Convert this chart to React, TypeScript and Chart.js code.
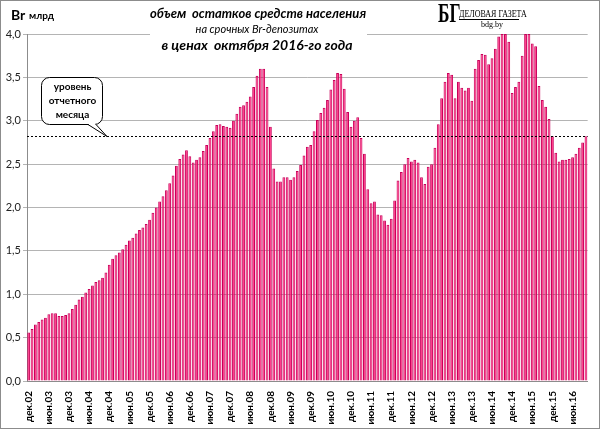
import { useEffect, useRef } from 'react';
import { Chart, registerables } from 'chart.js';

Chart.register(...registerables);

// monthly data, dec 2002 .. oct 2016
const monthNames = ['янв', 'фев', 'мар', 'апр', 'май', 'июн', 'июл', 'авг', 'сен', 'окт', 'ноя', 'дек'];
const startYear = 2002;
const startMonth = 11; // december
const monthCount = 167;

const categories: string[] = [];
for (let k = 0; k < monthCount; k++) {
  const m = (startMonth + k) % 12;
  const yr = startYear + Math.floor((startMonth + k) / 12);
  categories.push(`${monthNames[m]}.${String(yr % 100).padStart(2, '0')}`);
}

// only december and june get a label
const labelledMonths = ['дек', 'июн'];

// Br bln, in prices of Oct 2016
const deposits = [
  0.56, 0.6, 0.65, 0.68, 0.71, 0.73, 0.77, 0.78, 0.78, 0.75, 0.75, 0.76,
  0.78, 0.83, 0.88, 0.94, 0.97, 1.02, 1.06, 1.1, 1.14, 1.16, 1.19, 1.25,
  1.34, 1.41, 1.45, 1.48, 1.52, 1.57, 1.62, 1.65, 1.7, 1.74, 1.77, 1.81,
  1.86, 1.94, 2.0, 2.07, 2.13, 2.2, 2.28, 2.37, 2.48, 2.56, 2.61, 2.66,
  2.59, 2.52, 2.55, 2.58, 2.65, 2.72, 2.8, 2.88, 2.95, 2.96, 2.94, 2.93,
  2.92, 3.0, 3.08, 3.16, 3.18, 3.22, 3.28, 3.39, 3.52, 3.6, 3.6, 3.39,
  2.93, 2.45, 2.3, 2.3, 2.35, 2.35, 2.32, 2.35, 2.42, 2.49, 2.6, 2.7,
  2.72, 2.88, 3.01, 3.09, 3.15, 3.24, 3.36, 3.47, 3.55, 3.54, 3.37, 3.1,
  2.93, 3.0, 3.04, 2.8, 2.62, 2.21, 2.05, 2.07, 1.92, 1.91, 1.85, 1.8,
  1.87, 2.08, 2.31, 2.41, 2.5, 2.57, 2.53, 2.55, 2.52, 2.35, 2.27, 2.47,
  2.5, 2.69, 2.96, 3.26, 3.45, 3.55, 3.53, 3.26, 3.45, 3.38, 3.35, 3.38,
  3.23, 3.6, 3.7, 3.77, 3.76, 3.65, 3.72, 3.83, 3.97, 4.0, 4.0, 3.91,
  3.32, 3.39, 3.45, 3.75, 4.0, 4.0, 3.89, 3.86, 3.4, 3.24, 3.16, 3.02,
  2.82, 2.63, 2.53, 2.55, 2.55, 2.56, 2.58, 2.62, 2.69, 2.75, 2.82,
];

const currentLevel = deposits[deposits.length - 1];

const titleLines = ['объем  остатков средств населения', 'на срочных Br-депозитах', 'в ценах  октября 2016-го года'];
const calloutLines = ['уровень', 'отчетного', 'месяца'];

const decorations = {
  id: 'decorations',
  beforeDraw(chart: Chart) {
    const { ctx, width, height } = chart;
    ctx.save();
    ctx.fillStyle = '#fff';
    ctx.fillRect(0, 0, width, height);
    ctx.restore();
  },
  afterDraw(chart: Chart) {
    const { ctx, chartArea, width, height } = chart;
    const y = chart.scales.y;
    ctx.save();

    // level of the reporting month
    const ly = Math.round(y.getPixelForValue(currentLevel)) + 0.5;
    ctx.strokeStyle = '#000';
    ctx.lineWidth = 1;
    ctx.setLineDash([2, 2]);
    ctx.beginPath();
    ctx.moveTo(chartArea.left, ly);
    ctx.lineTo(chartArea.right, ly);
    ctx.stroke();
    ctx.setLineDash([]);

    // title
    ctx.fillStyle = '#fff';
    ctx.fillRect(150, 0, 217, 56);
    ctx.fillStyle = '#000';
    ctx.textAlign = 'center';
    ctx.textBaseline = 'middle';
    ctx.font = 'italic bold 13px Lato';
    ctx.fillText(titleLines[0], 258, 14);
    ctx.font = 'italic 11px Lato';
    ctx.fillText(titleLines[1], 257, 29);
    ctx.font = 'italic bold 14px Lato';
    ctx.fillText(titleLines[2], 257, 45);

    // unit
    ctx.textAlign = 'left';
    ctx.font = 'bold 14px Lato';
    ctx.fillText('Br', 11, 15);
    ctx.font = 'bold 10px Lato';
    ctx.fillText('млрд', 29, 16);

    // callout
    const bx = 41, by = 77, bw = 61, bh = 47;
    ctx.beginPath();
    ctx.roundRect(bx + 0.5, by + 0.5, bw, bh, 8);
    ctx.fillStyle = '#fff';
    ctx.fill();
    ctx.strokeStyle = '#000';
    ctx.stroke();
    ctx.beginPath();
    ctx.moveTo(88, by + bh + 0.5);
    ctx.lineTo(107, ly);
    ctx.lineTo(96, by + bh + 0.5);
    ctx.fillStyle = '#fff';
    ctx.fill();
    ctx.stroke();
    ctx.fillStyle = '#fff';
    ctx.fillRect(89, by + bh - 1, 6, 2);
    ctx.fillStyle = '#000';
    ctx.textAlign = 'center';
    ctx.font = 'bold 10px Lato';
    calloutLines.forEach((t, k) => ctx.fillText(t, bx + bw / 2 + 1, by + 10 + k * 14));

    // logo
    ctx.textAlign = 'left';
    ctx.save();
    ctx.translate(438, 15);
    ctx.scale(0.62, 1);
    ctx.font = 'bold 28px "Liberation Serif"';
    ctx.fillText('БГ', 0, 0);
    ctx.restore();
    ctx.save();
    ctx.translate(459, 14);
    ctx.scale(0.8, 1);
    ctx.font = '10px "Liberation Serif"';
    ctx.fillText('ДЕЛОВАЯ ГАЗЕТА', 0, 0);
    ctx.restore();
    ctx.fillRect(459, 19, 60, 1);
    ctx.font = '8px "Liberation Serif"';
    ctx.fillText('bdg.by', 481, 25);

    // frame
    ctx.strokeStyle = '#8c8c8c';
    ctx.lineWidth = 1;
    ctx.strokeRect(0.5, 0.5, width - 1, height - 1);
    ctx.restore();
  },
};

export default function App() {
  const canvasRef = useRef<HTMLCanvasElement>(null);
  const chartRef = useRef<Chart | null>(null);

  useEffect(() => {
    document.body.style.margin = '0';
    if (!canvasRef.current) return;
    if (chartRef.current) chartRef.current.destroy();

    chartRef.current = new Chart(canvasRef.current, {
      type: 'bar',
      data: {
        labels: categories,
        datasets: [
          {
            data: deposits,
            backgroundColor: '#ff1f78',
            borderColor: '#c8005a',
            borderWidth: 1,
            categoryPercentage: 1,
            barPercentage: 0.84,
          },
        ],
      },
      options: {
        animation: false,
        responsive: true,
        maintainAspectRatio: false,
        layout: { padding: { left: 0, right: 6, top: 34, bottom: 0 } },
        plugins: {
          legend: { display: false },
          tooltip: { enabled: false },
        },
        scales: {
          x: {
            grid: { display: false },
            border: { display: true, color: '#8c8c8c' },
            ticks: {
              autoSkip: false,
              minRotation: 90,
              maxRotation: 90,
              padding: 2,
              color: '#000',
              font: { family: 'Lato', size: 10, weight: 'bold' },
              callback: (_v, i) => (labelledMonths.includes(categories[i].slice(0, 3)) && (i % 6 === 0) ? categories[i] : ''),
            },
            afterFit: (scale) => {
              scale.height = 48;
            },
          },
          y: {
            min: 0,
            max: 4,
            grid: { color: '#b4b4b4', tickLength: 4 },
            border: { display: true, color: '#8c8c8c' },
            ticks: {
              stepSize: 0.5,
              padding: 2,
              color: '#222',
              font: { family: 'Lato', size: 11 },
              callback: (v) => Number(v).toFixed(1).replace('.', ','),
            },
            afterFit: (scale) => {
              scale.width = 27;
            },
          },
        },
      },
      plugins: [decorations],
    });

    return () => {
      if (chartRef.current) {
        chartRef.current.destroy();
        chartRef.current = null;
      }
    };
  }, []);

  return (
    <div style={{ position: 'relative', width: '600px', height: '429px' }}>
      <canvas ref={canvasRef}></canvas>
    </div>
  );
}
